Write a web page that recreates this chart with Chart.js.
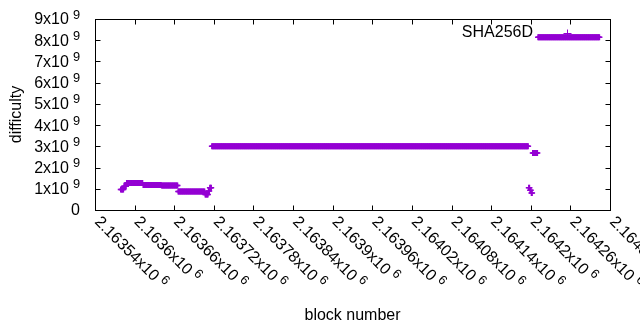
<!DOCTYPE html>
<html>
<head>
<meta charset="utf-8">
<script src="https://cdn.jsdelivr.net/npm/chart.js@4.4.1/dist/chart.umd.min.js"></script>
<style>
	html, body { margin: 0; padding: 0; background: #fff; }
	#wrap { width: 640px; height: 330px; }
</style>
</head>
<body>
<div id="wrap"><canvas id="chart" width="640" height="330"></canvas></div>
<script>
// difficulty is constant over runs of blocks
const runFrom = [2163579, 2163584, 2163588, 2163613, 2163641, 2163666, 2163707, 2163712, 2163714,
	2163717, 2164197, 2164199, 2164201, 2164203, 2164211];
const runTo = [2163583, 2163587, 2163612, 2163640, 2163665, 2163706, 2163711, 2163713, 2163716,
	2164196, 2164198, 2164200, 2164202, 2164210, 2164304];
const runDifficulty = [0.97e9, 1.12e9, 1.27e9, 1.18e9, 1.15e9, 0.87e9, 0.73e9, 0.9e9, 1.05e9,
	3.0e9, 1.05e9, 0.93e9, 0.8e9, 2.69e9, 8.14e9];

const xTicks = [2163540, 2163600, 2163660, 2163720, 2163780, 2163840, 2163900, 2163960,
	2164020, 2164080, 2164140, 2164200, 2164260, 2164320];
const xTickLabels = ["2.16354", "2.1636", "2.16366", "2.16372", "2.16378", "2.16384", "2.1639",
	"2.16396", "2.16402", "2.16408", "2.16414", "2.1642", "2.16426", "2.16432"];
const yTicks = [0, 1e9, 2e9, 3e9, 4e9, 5e9, 6e9, 7e9, 8e9, 9e9];
const yTickLabels = ["0", "1", "2", "3", "4", "5", "6", "7", "8", "9"];
const seriesName = "SHA256D";
const purple = "#9400d3";

const points = [];
for (let i = 0; i < runFrom.length; i++) {
	for (let b = runFrom[i]; b <= runTo[i]; b++) {
		points.push({ x: b, y: runDifficulty[i] });
	}
}

const FONT = "16px 'Liberation Sans', Arial, sans-serif";
const SUP = "12.8px 'Liberation Sans', Arial, sans-serif";

const gnuplotFrame = {
	id: "gnuplotFrame",
	afterDatasetsDraw(chart) {
		const ctx = chart.ctx;
		const a = chart.chartArea;
		const xs = chart.scales.x;
		const ys = chart.scales.y;
		const L = Math.round(a.left) + 0.5, R = Math.round(a.right) + 0.5;
		const T = Math.round(a.top) + 0.5, B = Math.round(a.bottom) + 0.5;
		const tic = 5;
		ctx.save();
		ctx.strokeStyle = "#000";
		ctx.lineWidth = 1;
		ctx.strokeRect(L, T, R - L, B - T);

		ctx.beginPath();
		yTicks.forEach(function(v) {
			const y = Math.round(ys.getPixelForValue(v)) + 0.5;
			ctx.moveTo(L, y); ctx.lineTo(L + tic, y);
			ctx.moveTo(R, y); ctx.lineTo(R - tic, y);
		});
		xTicks.forEach(function(v) {
			const x = Math.round(xs.getPixelForValue(v)) + 0.5;
			ctx.moveTo(x, B); ctx.lineTo(x, B - tic);
			ctx.moveTo(x, T); ctx.lineTo(x, T + tic);
		});
		ctx.stroke();

		ctx.fillStyle = "#000";
		ctx.textBaseline = "middle";

		// y tick labels, right aligned, with superscript exponent
		yTicks.forEach(function(v, i) {
			const y = ys.getPixelForValue(v);
			ctx.font = FONT;
			if (v === 0) {
				ctx.textAlign = "right";
				ctx.fillText("0", 80, y + 1);
				return;
			}
			const main = yTickLabels[i] + "x10";
			const mw = ctx.measureText(main).width;
			ctx.font = SUP;
			const sw = ctx.measureText("9").width;
			const x0 = 80 - sw - 4 - mw;
			ctx.textAlign = "left";
			ctx.font = FONT;
			ctx.fillText(main, x0, y + 1);
			ctx.font = SUP;
			ctx.fillText("9", x0 + mw + 4, y - 4);
		});

		// x tick labels rotated -45 (reading down to the right)
		xTicks.forEach(function(v, i) {
			const x = xs.getPixelForValue(v);
			ctx.save();
			ctx.translate(x + 2, B + 9);
			ctx.rotate(Math.PI / 4);
			ctx.textAlign = "left";
			ctx.font = FONT;
			const main = xTickLabels[i] + "x10";
			const mw = ctx.measureText(main).width;
			ctx.fillText(main, 0, 0);
			ctx.font = SUP;
			ctx.fillText("6", mw + 4, -5);
			ctx.restore();
		});

		// axis titles
		ctx.font = FONT;
		ctx.textAlign = "center";
		ctx.fillText("block number", (a.left + a.right) / 2, 316);
		ctx.save();
		ctx.translate(17, (a.top + a.bottom) / 2);
		ctx.rotate(-Math.PI / 2);
		ctx.fillText("difficulty", 0, 0);
		ctx.restore();

		// key
		ctx.textAlign = "right";
		ctx.fillText(seriesName, 533, 33);
		ctx.strokeStyle = purple;
		ctx.beginPath();
		ctx.moveTo(563.5, 33.5); ctx.lineTo(571.5, 33.5);
		ctx.moveTo(567.5, 29.5); ctx.lineTo(567.5, 37.5);
		ctx.stroke();
		ctx.restore();
	}
};

const config = {
	type: "scatter",
	data: {
		datasets: [
			{
				label: seriesName,
				data: points,
				pointStyle: "cross",
				pointRadius: 3,
				borderColor: purple,
				backgroundColor: purple,
				borderWidth: 1.5,
				showLine: false,
			},
		],
	},
	options: {
		responsive: false,
		animation: false,
		events: [],
		layout: {
			padding: { top: 19, right: 30, left: 0, bottom: 0 },
		},
		plugins: {
			legend: { display: false },
			tooltip: { enabled: false },
		},
		scales: {
			x: {
				type: "linear",
				min: 2163540,
				max: 2164320,
				ticks: { display: false },
				grid: { display: false },
				border: { display: false },
				afterFit: function(s) { s.height = 120; },
			},
			y: {
				type: "linear",
				min: 0,
				max: 9e9,
				ticks: { display: false },
				grid: { display: false },
				border: { display: false },
				afterFit: function(s) { s.width = 95; },
			},
		},
	},
	plugins: [gnuplotFrame],
};

new Chart(document.getElementById("chart").getContext("2d"), config);
</script>
</body>
</html>
